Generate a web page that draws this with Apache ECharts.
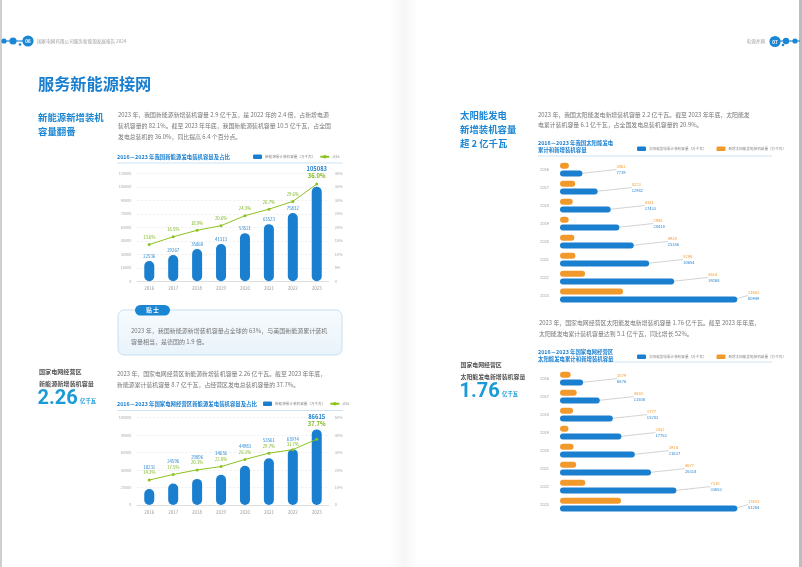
<!DOCTYPE html>
<html><head><meta charset="utf-8">
<script src="https://cdn.jsdelivr.net/npm/echarts@6/dist/echarts.min.js"></script>
<style>html,body{margin:0;padding:0;background:#fff}#c{width:802px;height:567px}</style>
</head><body><div id="c"></div>
<script>
const FONT = '"Noto Sans CJK SC", "Noto Sans", sans-serif';
// ---------- data ----------
const years = ['2016', '2017', '2018', '2019', '2020', '2021', '2022', '2023'];
const newEnergyCap = [22536, 29267, 35860, 41313, 53521, 63523, 75832, 105083];
const newEnergyShare = [13.6, 16.5, 18.9, 20.6, 24.3, 26.7, 29.6, 36.0];
const sgccCap = [18231, 24596, 29896, 34636, 44983, 53561, 63974, 86615];
const sgccShare = [14.3, 17.5, 20.1, 22.0, 26.1, 29.7, 31.7, 37.7];
const solarCum = [7719, 12942, 17433, 20418, 25356, 30654, 39268, 60949];
const solarNew = [3061, 5223, 4381, 2985, 4938, 5298, 8614, 21681];
const sgccSolarCum = [6676, 11506, 15283, 17753, 21637, 26314, 33653, 51264];
const sgccSolarNew = [3079, 4830, 3777, 2432, 3914, 4677, 7310, 17631];
const capAxis1 = [0, 120000, 15000];   // min, max, interval
const shareAxis1 = [0, 40, 5];
const capAxis2 = [0, 100000, 20000];
const shareAxis2 = [0, 50, 10];
const solarAxisMax1 = 70000;
const solarAxisMax2 = 60000;

const NAME_CAP = '新能源累计装机容量（万千瓦）';
const NAME_SHARE = '占比';
const NAME_SCUM = '太阳能发电累计装机容量（万千瓦）';
const NAME_SNEW = '新增太阳能发电装机容量（万千瓦）';

const BLUE = '#1a7fcf';
const HEAD = '#1b86d3';
const GREEN = '#8cc21f';
const ORANGE = '#f2992c';
const GRAYTXT = '#777';

function pct(v) { return v.toFixed(1) + '%'; }

// ---------- column + line charts ----------
function columnSeries(gi, caps, shares, capAx, shareAx, mode) {
  const barData = [], lineData = [];
  caps.forEach((v, i) => {
    const bf = v / capAx[1], lf = shares[i] / shareAx[1];
    const big = i === caps.length - 1 ? 'B' : '';
    const combined = `{v${big}|${v}}\n{p${big}|${pct(shares[i])}}`;
    let bl = { show: false }, ll = { show: false };
    if (mode === 'separate' && !(lf >= bf && lf - bf < 0.06)) {
      bl = { show: true, formatter: `{v${big}|${v}}` };
      ll = { show: true, formatter: `{p${big}|${pct(shares[i])}}` };
    } else if (mode === 'separate' || lf >= bf) {
      ll = { show: true, formatter: combined };
    } else {
      bl = { show: true, formatter: combined };
    }
    barData.push({ value: v, label: bl });
    lineData.push({ value: shares[i], label: ll });
  });
  const rich = {
    v: { fontSize: 4.3, color: BLUE, fontFamily: FONT, lineHeight: 5.5 },
    vB: { fontSize: 5.8, color: BLUE, fontWeight: 'bold', fontFamily: FONT, lineHeight: 7 },
    p: { fontSize: 4.3, color: '#7cb518', fontFamily: FONT, lineHeight: 5.5 },
    pB: { fontSize: 5.8, color: '#7cb518', fontWeight: 'bold', fontFamily: FONT, lineHeight: 7 }
  };
  return [{
    name: NAME_CAP, type: 'bar', xAxisIndex: gi, yAxisIndex: gi * 2, barWidth: 10,
    itemStyle: { color: BLUE, borderRadius: 5 },
    label: { position: 'top', distance: 2, rich },
    data: barData
  }, {
    name: NAME_SHARE, type: 'line', xAxisIndex: gi, yAxisIndex: gi * 2 + 1,
    symbol: 'circle', symbolSize: 3, lineStyle: { color: GREEN, width: 1 },
    itemStyle: { color: GREEN },
    label: { position: 'top', distance: 3, rich },
    data: lineData
  }];
}

function colAxes(gi, capAx, shareAx) {
  const x = {
    type: 'category', gridIndex: gi, data: years,
    axisLine: { lineStyle: { color: '#d8d8d8', width: 0.8 } },
    axisTick: { show: false },
    axisLabel: { fontSize: 4.5, color: '#999', margin: 5, fontFamily: FONT }
  };
  const yl = {
    type: 'value', gridIndex: gi, min: capAx[0], max: capAx[1], interval: capAx[2],
    axisLine: { show: false }, axisTick: { show: false },
    axisLabel: { fontSize: 3.8, color: '#aaa', margin: 6, fontFamily: FONT, formatter: v => String(v) },
    splitLine: { lineStyle: { color: '#e4e4e4', type: [2, 2], width: 0.6 } }
  };
  const yr = {
    type: 'value', gridIndex: gi, position: 'right', min: shareAx[0], max: shareAx[1], interval: shareAx[2],
    axisLine: { show: false }, axisTick: { show: false }, splitLine: { show: false },
    axisLabel: { fontSize: 3.8, color: '#aaa', margin: 6, fontFamily: FONT, formatter: v => v ? v + '%' : '0' }
  };
  return { x, y: [yl, yr] };
}

// ---------- horizontal bar charts ----------
function hbarSeries(gi, cum, nw) {
  const rich = {
    o: { fontSize: 4.1, color: ORANGE, fontFamily: FONT, lineHeight: 5.8 },
    b: { fontSize: 4.1, color: BLUE, fontFamily: FONT, lineHeight: 5.8 }
  };
  return [{
    name: NAME_SNEW, type: 'bar', xAxisIndex: 2 + gi, yAxisIndex: 4 + gi,
    barWidth: 6, barGap: '30%', itemStyle: { color: ORANGE, borderRadius: 3 },
    data: nw
  }, {
    name: NAME_SCUM, type: 'bar', xAxisIndex: 2 + gi, yAxisIndex: 4 + gi,
    barWidth: 6, barGap: '30%', itemStyle: { color: BLUE, borderRadius: 3 },
    label: {
      show: true, position: 'right', distance: 4, align: 'left',
      formatter: p => `{o|${nw[p.dataIndex]}}\n{b|${cum[p.dataIndex]}}`, rich
    },
    labelLine: { show: true, length2: 0, lineStyle: { color: '#c8c8c8', width: 0.8 } },
    labelLayout: p => {
      const end = p.rect.x + p.rect.width;
      const target = Math.min(end + 34, 748);
      return { dx: target - p.labelRect.x, dy: -4 };
    },
    data: cum
  }];
}
function hbarAxes(gi, max) {
  return {
    x: { type: 'value', gridIndex: 2 + gi, min: 0, max, show: false, splitLine: { show: false } },
    y: {
      type: 'category', gridIndex: 2 + gi, data: years, inverse: true,
      axisLine: { show: false }, axisTick: { show: false },
      axisLabel: { fontSize: 3.9, color: '#999', margin: 11, fontFamily: FONT }
    }
  };
}

const a0 = colAxes(0, capAxis1, shareAxis1);
const a1 = colAxes(1, capAxis2, shareAxis2);
const h0 = hbarAxes(0, solarAxisMax1);
const h1 = hbarAxes(1, solarAxisMax2);

// ---------- page graphics ----------
function txt(x, y, text, size, color, weight, extra) {
  return {
    type: 'text', x, y, silent: true, z: 10,
    style: Object.assign({
      text, fontSize: size, fontWeight: weight || 'normal', fontFamily: FONT, fill: color,
      align: 'left', verticalAlign: 'middle', textAlign: 'left', textVerticalAlign: 'middle',
      lineHeight: size * 1.6
    }, extra || {})
  };
}
function circ(cx, cy, r, fill) { return { type: 'circle', silent: true, shape: { cx, cy, r }, style: { fill } }; }
const NUMFONT = 'Roboto, "Noto Sans", sans-serif';

const graphics = [
  // page edges & gutter
  { type: 'rect', silent: true, shape: { x: 0, y: 0, width: 2, height: 567 }, style: { fill: '#cfcfcf' } },
  { type: 'rect', silent: true, shape: { x: 799, y: 0, width: 3, height: 567 }, style: { fill: '#bdbdbd' } },
  { type: 'rect', silent: true, z: -1, shape: { x: 388, y: 0, width: 30, height: 567 },
    style: { fill: new echarts.graphic.LinearGradient(0, 0, 1, 0, [
      { offset: 0, color: 'rgba(0,0,0,0)' }, { offset: 0.55, color: 'rgba(0,0,0,0.035)' }, { offset: 1, color: 'rgba(0,0,0,0)' }]) } },
  // header left
  { type: 'line', silent: true, shape: { x1: 3, y1: 41, x2: 24, y2: 41 }, style: { stroke: HEAD, lineWidth: 1.2 } },
  circ(4, 41, 2.6, HEAD), circ(13, 41, 3.6, HEAD), circ(20, 44.5, 1.3, HEAD),
  circ(28, 41, 5.6, HEAD),
  txt(28, 41.3, '06', 4.6, '#fff', 'bold', { align: 'center', textAlign: 'center' }),
  txt(37, 41.5, '国家电网有限公司服务新能源发展报告 2024', 4.6, '#a0a0a0'),
  // header right
  txt(765, 41.5, '电源并网', 4.6, '#a0a0a0', 'normal', { align: 'right', textAlign: 'right' }),
  { type: 'line', silent: true, shape: { x1: 778, y1: 41, x2: 800, y2: 41 }, style: { stroke: HEAD, lineWidth: 1.2 } },
  circ(775, 41.5, 5.6, HEAD), circ(786, 41, 3.2, HEAD), circ(795, 41, 2.6, HEAD), circ(783, 45, 1.3, HEAD),
  txt(775, 41.8, '07', 4.6, '#fff', 'bold', { align: 'center', textAlign: 'center' }),
  // left page title
  txt(38, 84, '服务新能源接网', 16.2, BLUE, 'bold'),
  txt(38, 124.5, '新能源新增装机\n容量翻番', 9.4, HEAD, 'bold', { lineHeight: 13.4 }),
  txt(118, 125.8, '2023 年，我国新能源新增装机容量 2.9 亿千瓦，是 2022 年的 2.4 倍，占新增电源\n装机容量的 82.1%。截至 2023 年年底，我国新能源装机容量 10.5 亿千瓦，占全国\n发电总装机的 36.0%，同比提高 6.4 个百分点。', 5.9, GRAYTXT, 'normal', { lineHeight: 10.8 }),
  // chart title underlines
  { type: 'line', silent: true, shape: { x1: 117, y1: 163, x2: 343, y2: 163 }, style: { stroke: '#cfe3f3', lineWidth: 1 } },
  { type: 'line', silent: true, shape: { x1: 117, y1: 410.5, x2: 343, y2: 410.5 }, style: { stroke: '#cfe3f3', lineWidth: 1 } },
  { type: 'line', silent: true, shape: { x1: 538, y1: 156, x2: 772, y2: 156 }, style: { stroke: '#cfe3f3', lineWidth: 1 } },
  { type: 'line', silent: true, shape: { x1: 538, y1: 362, x2: 772, y2: 362 }, style: { stroke: '#cfe3f3', lineWidth: 1 } },
  // tip box
  { type: 'rect', silent: true, shape: { x: 118, y: 310, width: 224, height: 45, r: 6 },
    style: { stroke: '#b9d9ef', lineWidth: 0.8,
      fill: new echarts.graphic.LinearGradient(0, 0, 0, 1, [{ offset: 0, color: '#f7fbfe' }, { offset: 1, color: '#e9f3fb' }]) } },
  { type: 'rect', silent: true, shape: { x: 135, y: 305, width: 35, height: 10.5, r: 5.25 }, style: { fill: HEAD } },
  txt(152.5, 310.3, '贴 士', 5.6, '#fff', 'bold', { align: 'center', textAlign: 'center' }),
  txt(131, 336, '2023 年，我国新能源新增装机容量占全球的 63%，与美国新能源累计装机\n容量相当，是德国的 1.9 倍。', 6, GRAYTXT, 'normal', { lineHeight: 10.5 }),
  // SGCC new energy block
  txt(39, 378, '国家电网经营区\n新能源新增装机容量', 6.1, '#555', 'bold', { lineHeight: 12.3 }),
  txt(37.5, 398.5, '2.26', 20, '#1a9bd8', 'bold', { fontFamily: NUMFONT }),
  txt(80, 401, '亿千瓦', 5.4, '#1a9bd8', 'bold'),
  txt(117, 379.3, '2023 年，国家电网经营区新能源新增装机容量 2.26 亿千瓦。截至 2023 年年底，\n新能源累计装机容量 8.7 亿千瓦，占经营区发电总装机容量的 37.7%。', 5.9, GRAYTXT, 'normal', { lineHeight: 10.3 }),
  // right page
  txt(460, 129.5, '太阳能发电\n新增装机容量\n超 2 亿千瓦', 9.4, HEAD, 'bold', { lineHeight: 13.9 }),
  txt(538, 119.7, '2023 年，我国太阳能发电新增装机容量 2.2 亿千瓦。截至 2023 年年底，太阳能发\n电累计装机容量 6.1 亿千瓦，占全国发电总装机容量的 20.9%。', 5.9, GRAYTXT, 'normal', { lineHeight: 10.7 }),
  txt(539, 328.3, '2023 年，国家电网经营区太阳能发电新增装机容量 1.76 亿千瓦。截至 2023 年年底，\n太阳能发电累计装机容量达到 5.1 亿千瓦，同比增长 52%。', 5.9, GRAYTXT, 'normal', { lineHeight: 10.2 }),
  txt(460.5, 371, '国家电网经营区\n太阳能发电新增装机容量', 5.9, '#555', 'bold', { lineHeight: 11.7 }),
  txt(459.5, 391.5, '1.76', 20, '#1a9bd8', 'bold', { fontFamily: NUMFONT }),
  txt(502, 394, '亿千瓦', 5.4, '#1a9bd8', 'bold')
];

const titleStyle = { fontSize: 5.4, fontWeight: 'bold', color: BLUE, fontFamily: FONT, lineHeight: 6.6 };
const legendBase = {
  itemWidth: 9, itemHeight: 4.5, itemGap: 4, padding: 0,
  textStyle: { fontSize: 3.6, color: '#888', fontFamily: FONT, padding: [0, 0, 0, -2] }
};

const option = {
  animation: false,
  backgroundColor: '#fff',
  textStyle: { fontFamily: FONT },
  title: [
    { text: '2016－2023 年我国新能源发电装机容量及占比', left: 117, top: 154, padding: 0, textStyle: titleStyle },
    { text: '2016－2023 年国家电网经营区新能源发电装机容量及占比', left: 117, top: 401, padding: 0, textStyle: titleStyle },
    { text: '2016－2023 年我国太阳能发电\n累计和新增装机容量', left: 538, top: 140, padding: 0, textStyle: titleStyle },
    { text: '2016－2023 年国家电网经营区\n太阳能发电累计和新增装机容量', left: 538, top: 349, padding: 0, textStyle: titleStyle }
  ],
  legend: [
    Object.assign({}, legendBase, { left: 253, top: 154.5, data: [{ name: NAME_CAP, icon: 'roundRect' }, { name: NAME_SHARE }] }),
    Object.assign({}, legendBase, { left: 263, top: 401.5, data: [{ name: NAME_CAP, icon: 'roundRect' }, { name: NAME_SHARE }] }),
    Object.assign({}, legendBase, { left: 637, top: 146.5, itemGap: 10, data: [{ name: NAME_SCUM, icon: 'roundRect' }, { name: NAME_SNEW, icon: 'roundRect' }] }),
    Object.assign({}, legendBase, { left: 637, top: 354.5, itemGap: 10, data: [{ name: NAME_SCUM, icon: 'roundRect' }, { name: NAME_SNEW, icon: 'roundRect' }] })
  ],
  grid: [
    { left: 137.3, top: 173.3, width: 191.4, height: 108 },
    { left: 137.3, top: 417.7, width: 191.4, height: 87.3 },
    { left: 560, top: 160.7, width: 203.6, height: 143.8 },
    { left: 560, top: 369.7, width: 207.5, height: 144 }
  ],
  xAxis: [a0.x, a1.x, h0.x, h1.x],
  yAxis: [a0.y[0], a0.y[1], a1.y[0], a1.y[1], h0.y, h1.y],
  series: [].concat(
    columnSeries(0, newEnergyCap, newEnergyShare, capAxis1, shareAxis1, 'separate'),
    columnSeries(1, sgccCap, sgccShare, capAxis2, shareAxis2, 'combined'),
    hbarSeries(0, solarCum, solarNew),
    hbarSeries(1, sgccSolarCum, sgccSolarNew)
  ),
  graphic: { elements: graphics }
};

const chart = echarts.init(document.getElementById('c'), null, { renderer: 'canvas' });
chart.setOption(option);
</script></body></html>
